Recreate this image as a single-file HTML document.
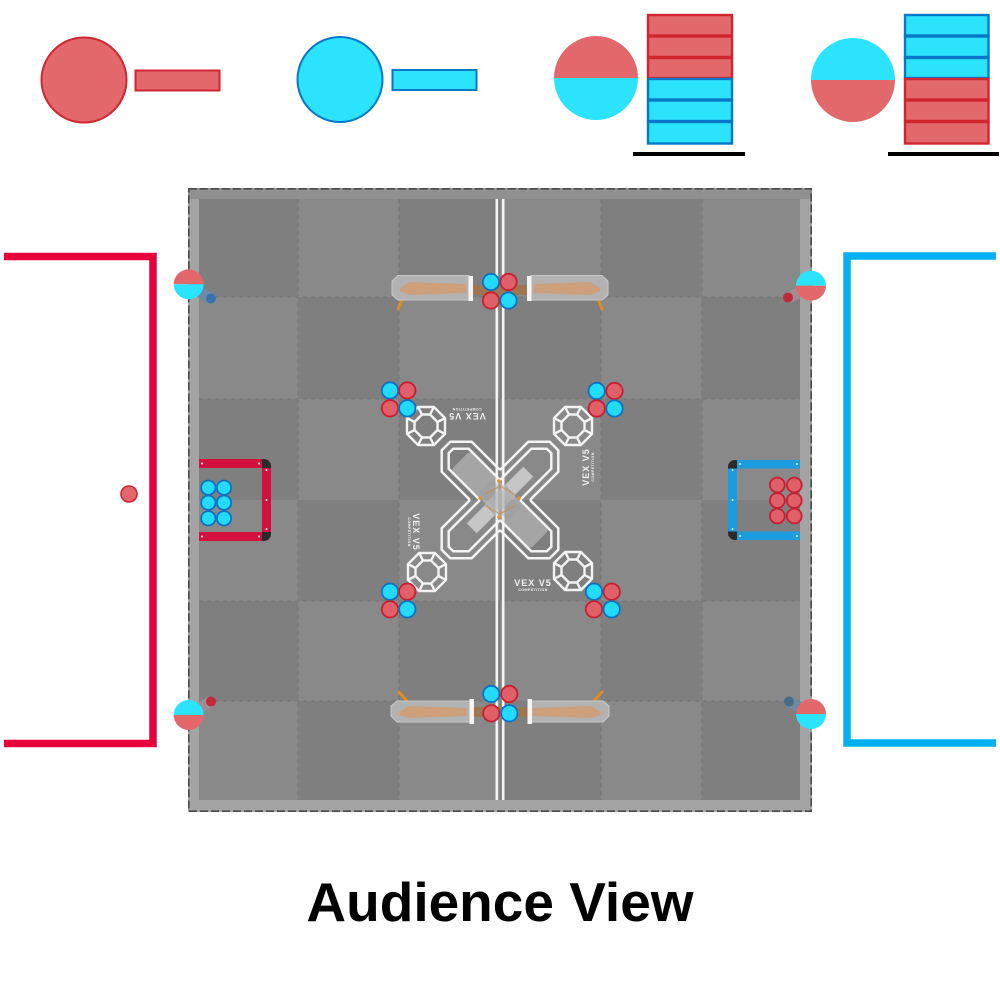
<!DOCTYPE html>
<html><head><meta charset="utf-8"><style>
html,body{margin:0;padding:0;background:#fff;}
svg{display:block;}
</style></head><body>
<svg width="1000" height="1000" viewBox="0 0 1000 1000" xmlns="http://www.w3.org/2000/svg">
<defs>
  <mask id="mAo" maskUnits="userSpaceOnUse" x="0" y="0" width="1000" height="1000"><rect width="1000" height="1000" fill="#fff"/><polygon fill="#000" points="528.3,441.7 549.7,441.7 558.3,450.3 558.3,471.7 471.7,558.3 450.3,558.3 441.7,549.7 441.7,528.3"/></mask>
  <mask id="mBo" maskUnits="userSpaceOnUse" x="0" y="0" width="1000" height="1000"><rect width="1000" height="1000" fill="#fff"/><polygon fill="#000" points="471.7,441.7 450.3,441.7 441.7,450.3 441.7,471.7 528.3,558.3 549.7,558.3 558.3,549.7 558.3,528.3"/></mask>
  <mask id="mAi" maskUnits="userSpaceOnUse" x="0" y="0" width="1000" height="1000"><rect width="1000" height="1000" fill="#fff"/><polygon fill="#000" points="531.3,448.7 546.8,448.7 551.3,453.2 551.3,468.7 468.7,551.3 453.2,551.3 448.7,546.8 448.7,531.3"/></mask>
  <mask id="mBi" maskUnits="userSpaceOnUse" x="0" y="0" width="1000" height="1000"><rect width="1000" height="1000" fill="#fff"/><polygon fill="#000" points="468.7,448.7 453.2,448.7 448.7,453.2 448.7,468.7 531.3,551.3 546.8,551.3 551.3,546.8 551.3,531.3"/></mask>
  <g id="oct" fill="none" stroke="#f4f4f4" stroke-width="2.4" stroke-linejoin="miter">
    <polygon points="7.9,-19 19,-7.9 19,7.9 7.9,19 -7.9,19 -19,7.9 -19,-7.9 -7.9,-19"/>
    <polygon points="4,-11.5 11.5,-4 11.5,4 4,11.5 -4,11.5 -11.5,4 -11.5,-4 -4,-11.5"/>
    <path d="M4,-11.5L7.9,-19M-4,-11.5L-7.9,-19M4,11.5L7.9,19M-4,11.5L-7.9,19M11.5,4L19,7.9M11.5,-4L19,-7.9M-11.5,4L-19,7.9M-11.5,-4L-19,-7.9"/>
  </g>
</defs>

<!-- ===== Legend ===== -->
<circle cx="84" cy="80" r="42.5" fill="#e2686c" stroke="#d12630" stroke-width="2"/>
<rect x="135.5" y="70.5" width="84" height="20" fill="#e2686c" stroke="#d12630" stroke-width="2"/>
<circle cx="340" cy="79.5" r="42.5" fill="#2ce3fe" stroke="#0578c8" stroke-width="2"/>
<rect x="392.5" y="70" width="84" height="20" fill="#2ce3fe" stroke="#0578c8" stroke-width="2"/>

<path d="M554,78 A42,42 0 0 1 638,78 Z" fill="#e2686c"/>
<path d="M554,78 A42,42 0 0 0 638,78 Z" fill="#2ce3fe"/>
<g stroke-width="2.4">
  <rect x="648" y="15" width="84" height="20.5" fill="#e2686c" stroke="#d12630"/>
  <rect x="648" y="36.5" width="84" height="20.5" fill="#e2686c" stroke="#d12630"/>
  <rect x="648" y="58" width="84" height="20" fill="#e2686c" stroke="#d12630"/>
  <rect x="648" y="79" width="84" height="20.5" fill="#2ce3fe" stroke="#0578c8"/>
  <rect x="648" y="100.5" width="84" height="20.5" fill="#2ce3fe" stroke="#0578c8"/>
  <rect x="648" y="122" width="84" height="21.5" fill="#2ce3fe" stroke="#0578c8"/>
</g>
<rect x="633" y="152" width="112" height="4" fill="#000"/>

<path d="M811,80 A42,42 0 0 1 895,80 Z" fill="#2ce3fe"/>
<path d="M811,80 A42,42 0 0 0 895,80 Z" fill="#e2686c"/>
<g stroke-width="2.4">
  <rect x="905" y="15" width="83.5" height="20.5" fill="#2ce3fe" stroke="#0578c8"/>
  <rect x="905" y="36.5" width="83.5" height="20.5" fill="#2ce3fe" stroke="#0578c8"/>
  <rect x="905" y="58" width="83.5" height="20" fill="#2ce3fe" stroke="#0578c8"/>
  <rect x="905" y="79" width="83.5" height="20.5" fill="#e2686c" stroke="#d12630"/>
  <rect x="905" y="100.5" width="83.5" height="20.5" fill="#e2686c" stroke="#d12630"/>
  <rect x="905" y="122" width="83.5" height="21.5" fill="#e2686c" stroke="#d12630"/>
</g>
<rect x="888" y="152" width="111" height="4" fill="#000"/>

<!-- ===== Side brackets ===== -->
<path d="M4,256.5 H153 V743.5 H4" fill="none" stroke="#e8003d" stroke-width="7.5" stroke-linejoin="miter"/>
<circle cx="129" cy="494" r="8" fill="#e2686c" stroke="#d12630" stroke-width="1.6"/>
<path d="M996,256 H847 V743 H996" fill="none" stroke="#00b0f0" stroke-width="7.5" stroke-linejoin="miter"/>

<!-- ===== Field ===== -->
<rect x="188" y="188" width="624" height="624" fill="#a4a4a4"/>
<rect x="188" y="188" width="624" height="11" fill="#909090"/>
<rect x="188.8" y="188.8" width="622.4" height="622.4" fill="none" stroke="#4a4a4a" stroke-width="1.6" stroke-dasharray="8 3"/>
<g>
  <rect x="199" y="199" width="601" height="601" fill="#858585"/>
  <g fill="#7f7f7f">
    <rect x="199" y="199" width="99" height="98"/><rect x="399" y="199" width="101" height="98"/><rect x="601" y="199" width="101" height="98"/>
    <rect x="298" y="297" width="101" height="102"/><rect x="500" y="297" width="101" height="102"/><rect x="702" y="297" width="98" height="102"/>
    <rect x="199" y="399" width="99" height="101"/><rect x="399" y="399" width="101" height="101"/><rect x="601" y="399" width="101" height="101"/>
    <rect x="298" y="500" width="101" height="101"/><rect x="500" y="500" width="101" height="101"/><rect x="702" y="500" width="98" height="101"/>
    <rect x="199" y="601" width="99" height="100"/><rect x="399" y="601" width="101" height="100"/><rect x="601" y="601" width="101" height="100"/>
    <rect x="298" y="701" width="101" height="99"/><rect x="500" y="701" width="101" height="99"/><rect x="702" y="701" width="98" height="99"/>
  </g>
  <g fill="#898989">
    <rect x="298" y="199" width="101" height="98"/><rect x="500" y="199" width="101" height="98"/><rect x="702" y="199" width="98" height="98"/>
    <rect x="199" y="297" width="99" height="102"/><rect x="399" y="297" width="101" height="102"/><rect x="601" y="297" width="101" height="102"/>
    <rect x="298" y="399" width="101" height="101"/><rect x="500" y="399" width="101" height="101"/><rect x="702" y="399" width="98" height="101"/>
    <rect x="199" y="500" width="99" height="101"/><rect x="399" y="500" width="101" height="101"/><rect x="601" y="500" width="101" height="101"/>
    <rect x="298" y="601" width="101" height="100"/><rect x="500" y="601" width="101" height="100"/><rect x="702" y="601" width="98" height="100"/>
    <rect x="199" y="701" width="99" height="99"/><rect x="399" y="701" width="101" height="99"/><rect x="601" y="701" width="101" height="99"/>
  </g>
  <g stroke="#767676" stroke-width="2" stroke-dasharray="4 4" opacity="0.5">
    <path d="M298,199V800M399,199V800M601,199V800M702,199V800"/>
    <path d="M199,297H800M199,399H800M199,601H800M199,701H800"/>
  </g>
</g>
<rect x="495.5" y="199" width="2.6" height="601" fill="#f4f4f4"/>
<rect x="501.9" y="199" width="2.6" height="601" fill="#f4f4f4"/>

<!-- ===== Center X ===== -->
<g fill="none" stroke="#f4f4f4" stroke-width="2.5">
  <polygon mask="url(#mAo)" points="471.7,441.7 450.3,441.7 441.7,450.3 441.7,471.7 528.3,558.3 549.7,558.3 558.3,549.7 558.3,528.3"/>
  <polygon mask="url(#mBo)" points="528.3,441.7 549.7,441.7 558.3,450.3 558.3,471.7 471.7,558.3 450.3,558.3 441.7,549.7 441.7,528.3"/>
  <polygon mask="url(#mAi)" points="468.7,448.7 453.2,448.7 448.7,453.2 448.7,468.7 531.3,551.3 546.8,551.3 551.3,546.8 551.3,531.3"/>
  <polygon mask="url(#mBi)" points="531.3,448.7 546.8,448.7 551.3,453.2 551.3,468.7 468.7,551.3 453.2,551.3 448.7,546.8 448.7,531.3"/>
</g>
<g transform="translate(500,500) rotate(45)">
  <rect x="-56" y="-13" width="112" height="26" rx="3" fill="#d4d4d4" opacity="0.45"/>
  <rect x="-20" y="-9" width="40" height="18" fill="#9a9a9a" opacity="0.35"/>
</g>
<g transform="translate(500,500) rotate(-45)">
  <rect x="14" y="-7" width="26" height="14" fill="#eeeeee" opacity="0.6"/>
  <rect x="-40" y="-7" width="26" height="14" fill="#eeeeee" opacity="0.6"/>
  <rect x="-14" y="-8" width="28" height="16" fill="#bcbcbc" opacity="0.5"/>
</g>
<g fill="#e8902a">
  <circle cx="480" cy="498" r="1.8"/><circle cx="519" cy="498" r="1.8"/>
  <circle cx="499" cy="481" r="1.8"/><circle cx="499" cy="517" r="1.8"/>
</g>
<path d="M486,494 L500,486 L514,494 M486,506 L500,514 L514,506" fill="none" stroke="#d0883a" stroke-width="1.1" opacity="0.7"/>

<use href="#oct" transform="translate(426,426)"/>
<use href="#oct" transform="translate(573,426)"/>
<use href="#oct" transform="translate(427,572)"/>
<use href="#oct" transform="translate(573,571)"/>

<g font-family="Liberation Sans, sans-serif" font-weight="bold" fill="#f2f2f2" text-anchor="middle">
  <g transform="translate(533,586)"><text x="0" y="0" font-size="9" letter-spacing="1">VEX V5</text><text x="0" y="5" font-size="3.6" letter-spacing="0.4">COMPETITION</text></g>
  <g transform="translate(467,413) rotate(180)"><text x="0" y="0" font-size="9" letter-spacing="1">VEX V5</text><text x="0" y="5" font-size="3.6" letter-spacing="0.4">COMPETITION</text></g>
  <g transform="translate(589,467) rotate(-90)"><text x="0" y="0" font-size="9" letter-spacing="1">VEX V5</text><text x="0" y="5" font-size="3.6" letter-spacing="0.4">COMPETITION</text></g>
  <g transform="translate(413,532) rotate(90)"><text x="0" y="0" font-size="9" letter-spacing="1">VEX V5</text><text x="0" y="5" font-size="3.6" letter-spacing="0.4">COMPETITION</text></g>
</g>

<!-- ===== Top structure ===== -->
<g>
  <path d="M402,299 L398,309" stroke="#e08a20" stroke-width="3" stroke-linecap="round"/>
  <path d="M598,299 L602,309" stroke="#e08a20" stroke-width="3" stroke-linecap="round"/>
  <polygon points="392,281 398,275.5 469,275.5 469,300 398,300 392,295" fill="#b2b2b2" stroke="#c8c8c8" stroke-width="1"/>
  <polygon points="400,288 410,282 466,284 466,293 410,295 400,291" fill="#d39a6c" opacity="0.8"/>
  <polygon points="608,281 602,275.5 531,275.5 531,300 602,300 608,295" fill="#b2b2b2" stroke="#c8c8c8" stroke-width="1"/>
  <polygon points="600,288 590,282 534,284 534,293 590,295 600,291" fill="#d39a6c" opacity="0.8"/>
  <rect x="473" y="285" width="54" height="10" fill="#a07650"/>
  <rect x="468.5" y="276" width="4.5" height="25" fill="#f4f4f4"/>
  <rect x="527" y="276" width="4.5" height="25" fill="#f4f4f4"/>
</g>
<!-- ===== Bottom structure ===== -->
<g>
  <path d="M408,702 L399,692" stroke="#e08a20" stroke-width="3" stroke-linecap="round"/>
  <path d="M593,702 L602,692" stroke="#e08a20" stroke-width="3" stroke-linecap="round"/>
  <polygon points="391,706 397,701 470,701 470,722 397,722 391,716" fill="#b2b2b2" stroke="#c8c8c8" stroke-width="1"/>
  <polygon points="399,712 409,706 467,708 467,716 409,718 399,715" fill="#d39a6c" opacity="0.8"/>
  <polygon points="609,706 603,701 530,701 530,722 603,722 609,716" fill="#b2b2b2" stroke="#c8c8c8" stroke-width="1"/>
  <polygon points="601,712 591,706 533,708 533,716 591,718 601,715" fill="#d39a6c" opacity="0.8"/>
  <rect x="474" y="707" width="54" height="10" fill="#a07650"/>
  <rect x="469.5" y="699" width="4.5" height="25" fill="#f4f4f4"/>
  <rect x="527.5" y="699" width="4.5" height="25" fill="#f4f4f4"/>
</g>

<!-- ===== Balls ===== -->
<g stroke-width="1.8">
  <circle cx="491" cy="282" r="8.2" fill="#22dbfa" stroke="#0a72c4"/>
  <circle cx="508.5" cy="282" r="8.2" fill="#e0606a" stroke="#c81f30"/>
  <circle cx="491" cy="300.5" r="8.2" fill="#e0606a" stroke="#c81f30"/>
  <circle cx="508.5" cy="300.5" r="8.2" fill="#22dbfa" stroke="#0a72c4"/>
  <circle cx="491.3" cy="694" r="8.2" fill="#22dbfa" stroke="#0a72c4"/>
  <circle cx="509.3" cy="694" r="8.2" fill="#e0606a" stroke="#c81f30"/>
  <circle cx="491.3" cy="713.3" r="8.2" fill="#e0606a" stroke="#c81f30"/>
  <circle cx="509.3" cy="713.3" r="8.2" fill="#22dbfa" stroke="#0a72c4"/>
  <circle cx="390" cy="390.5" r="8.2" fill="#22dbfa" stroke="#0a72c4"/>
  <circle cx="407.3" cy="390.5" r="8.2" fill="#e0606a" stroke="#c81f30"/>
  <circle cx="390" cy="408.3" r="8.2" fill="#e0606a" stroke="#c81f30"/>
  <circle cx="407.3" cy="408.3" r="8.2" fill="#22dbfa" stroke="#0a72c4"/>
  <circle cx="596.7" cy="391" r="8.2" fill="#22dbfa" stroke="#0a72c4"/>
  <circle cx="614.5" cy="391" r="8.2" fill="#e0606a" stroke="#c81f30"/>
  <circle cx="596.7" cy="408.5" r="8.2" fill="#e0606a" stroke="#c81f30"/>
  <circle cx="614.5" cy="408.5" r="8.2" fill="#22dbfa" stroke="#0a72c4"/>
  <circle cx="390" cy="591.7" r="8.2" fill="#22dbfa" stroke="#0a72c4"/>
  <circle cx="407.3" cy="591.7" r="8.2" fill="#e0606a" stroke="#c81f30"/>
  <circle cx="390" cy="609.3" r="8.2" fill="#e0606a" stroke="#c81f30"/>
  <circle cx="407.3" cy="609.3" r="8.2" fill="#22dbfa" stroke="#0a72c4"/>
  <circle cx="594" cy="591.7" r="8.2" fill="#22dbfa" stroke="#0a72c4"/>
  <circle cx="611.7" cy="591.7" r="8.2" fill="#e0606a" stroke="#c81f30"/>
  <circle cx="594" cy="609.3" r="8.2" fill="#e0606a" stroke="#c81f30"/>
  <circle cx="611.7" cy="609.3" r="8.2" fill="#22dbfa" stroke="#0a72c4"/>
</g>

<!-- ===== Red goal ===== -->
<g>
  <rect x="199" y="459" width="63" height="9" fill="#d3103e"/>
  <rect x="199" y="532" width="63" height="9" fill="#d3103e"/>
  <rect x="262" y="468" width="9" height="64" fill="#d3103e"/>
  <path d="M262,459 h2 a7,7 0 0 1 7,7 v2 h-9 z" fill="#2b2b2b"/>
  <path d="M262,541 h2 a7,7 0 0 0 7,-7 v-2 h-9 z" fill="#2b2b2b"/>
  <g fill="#f4f4f4"><circle cx="202" cy="463.5" r="1"/><circle cx="259" cy="463.5" r="1"/><circle cx="266.5" cy="470" r="1"/><circle cx="266.5" cy="500" r="1"/><circle cx="266.5" cy="529" r="1"/><circle cx="202" cy="536.5" r="1"/><circle cx="259" cy="536.5" r="1"/></g>
  <g stroke-width="1.8" fill="#22dbfa" stroke="#0a72c4">
    <circle cx="208.3" cy="487.7" r="7.2"/><circle cx="224" cy="487.7" r="7.2"/>
    <circle cx="208.3" cy="502.7" r="7.2"/><circle cx="224" cy="502.7" r="7.2"/>
    <circle cx="208.3" cy="518.3" r="7.2"/><circle cx="224" cy="518.3" r="7.2"/>
  </g>
</g>
<!-- ===== Blue goal ===== -->
<g>
  <rect x="737" y="460" width="63" height="8.5" fill="#1b9be0"/>
  <rect x="737" y="531.5" width="63" height="8.5" fill="#1b9be0"/>
  <rect x="728" y="468.5" width="9" height="63" fill="#1b9be0"/>
  <path d="M737,460 h-2 a7,7 0 0 0 -7,7 v1.5 h9 z" fill="#2b2b2b"/>
  <path d="M737,540 h-2 a7,7 0 0 1 -7,-7 v-1.5 h9 z" fill="#2b2b2b"/>
  <g fill="#f4f4f4"><circle cx="740" cy="464" r="1"/><circle cx="797" cy="464" r="1"/><circle cx="732.5" cy="470" r="1"/><circle cx="732.5" cy="500" r="1"/><circle cx="732.5" cy="529" r="1"/><circle cx="740" cy="536" r="1"/><circle cx="797" cy="536" r="1"/></g>
  <g stroke-width="1.8" fill="#e0606a" stroke="#c81f30">
    <circle cx="777.3" cy="485" r="7.4"/><circle cx="794.3" cy="485" r="7.4"/>
    <circle cx="777.3" cy="500.5" r="7.4"/><circle cx="794.3" cy="500.5" r="7.4"/>
    <circle cx="777.3" cy="516" r="7.4"/><circle cx="794.3" cy="516" r="7.4"/>
  </g>
</g>

<!-- ===== Corner goals ===== -->
<g stroke-linecap="round">
  <line x1="192" y1="287" x2="210" y2="298" stroke="#6f8aa3" stroke-width="11"/>
  <circle cx="211" cy="298.5" r="5" fill="#3a72b0"/>
  <line x1="808" y1="288" x2="790" y2="297" stroke="#a08c92" stroke-width="11"/>
  <circle cx="788" cy="297.5" r="5" fill="#c02a38"/>
  <line x1="192" y1="712" x2="210" y2="702" stroke="#a08c92" stroke-width="11"/>
  <circle cx="211" cy="701.5" r="5" fill="#c02a38"/>
  <line x1="808" y1="712" x2="790" y2="702" stroke="#6f8aa3" stroke-width="11"/>
  <circle cx="789" cy="701.5" r="5" fill="#4a6a8a"/>
</g>
<path d="M173.7,284.3 A15,15 0 0 1 203.7,284.3 Z" fill="#e2686c"/>
<path d="M173.7,284.3 A15,15 0 0 0 203.7,284.3 Z" fill="#2ce3fe"/>
<path d="M796,285.7 A15,15 0 0 1 826,285.7 Z" fill="#2ce3fe"/>
<path d="M796,285.7 A15,15 0 0 0 826,285.7 Z" fill="#e2686c"/>
<path d="M173.7,715 A15,15 0 0 1 203.7,715 Z" fill="#2ce3fe"/>
<path d="M173.7,715 A15,15 0 0 0 203.7,715 Z" fill="#e2686c"/>
<path d="M796,714 A15,15 0 0 1 826,714 Z" fill="#e2686c"/>
<path d="M796,714 A15,15 0 0 0 826,714 Z" fill="#2ce3fe"/>

<text x="500" y="921" text-anchor="middle" font-family="Liberation Sans, Arial, sans-serif" font-weight="bold" font-size="55" fill="#000">Audience View</text>
</svg>
</body></html>
